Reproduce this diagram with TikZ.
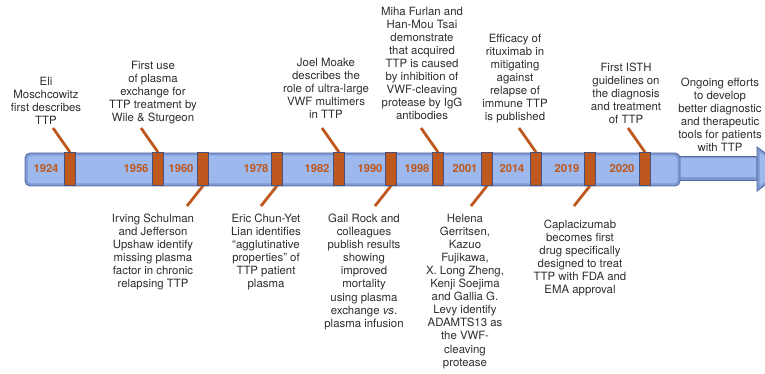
\documentclass[tikz,border=0pt]{standalone}
\usepackage{fontspec}
\setmainfont{TeX Gyre Heros}
\definecolor{orng}{RGB}{190,88,30}
\definecolor{mkedge}{RGB}{70,80,120}
\definecolor{barfill}{RGB}{156,184,236}
\definecolor{barshade}{RGB}{126,152,212}
\definecolor{baredge}{RGB}{88,108,160}
\definecolor{txtgray}{RGB}{45,45,45}
\begin{document}
\begin{tikzpicture}[x=1pt,y=-1pt,
  txt/.style={align=center, font=\fontsize{11.4}{13.05}\selectfont, text=txtgray, inner sep=0pt},
  yr/.style={font=\fontsize{11.2}{13}\selectfont\bfseries, text=orng, inner sep=0pt},
  mk/.style={draw=mkedge, line width=0.6pt, fill=orng, minimum width=11pt, minimum height=33pt, inner sep=0pt},
  conn/.style={draw=orng, line width=2.8pt},
  barpart/.style={fill=barshade, draw=baredge, line width=0.9pt}]
\useasboundingbox (0,0) rectangle (765,374);
\clip (0,0) rectangle (765,374);
% arrow
\draw[barpart] (670,156) rectangle (758,180);
\fill[barfill] (670,158.5) rectangle (756,177.5);
\draw[barpart] (757,147) -- (787,169) -- (757,191) -- cycle;
\fill[barfill] (759.5,152) -- (782,169) -- (759.5,186) -- cycle;
% bar
\draw[barpart, rounded corners=5pt] (25,153) rectangle (680,186);
\fill[barfill, rounded corners=4pt] (27.5,155.5) rectangle (677.5,183.5);
% connector free ends
\foreach \n/\x in {1/70, 2/158, 5/339, 7/438, 9/536, 11/645} {
  \coordinate (c\n) at (\x-17,128);
}
\foreach \n/\x in {3/203, 4/277, 6/391, 8/487, 10/590} {
  \coordinate (c\n) at (\x-16,206);
}
% markers
\foreach \n/\x in {1/70, 2/158, 3/203, 4/277, 5/339, 6/391, 7/438, 8/487, 9/536, 10/590, 11/645} {
  \node[mk] (m\n) at (\x,169) {};
}
\foreach \n in {1,2,5,7,9,11} { \draw[conn] (m\n.north) -- (c\n); }
\foreach \n in {3,4,6,8,10} { \draw[conn] (m\n.south) -- (c\n); }
\foreach \n in {1,...,11} { \node[mk] at (m\n) {}; }
% years
\node[yr] (y1924) at (46,168) {1924};
\node[yr] (y1956) at (136,168) {1956};
\node[yr] (y1960) at (181,168) {1960};
\node[yr] (y1978) at (256,168) {1978};
\node[yr] (y1982) at (317,168) {1982};
\node[yr] (y1990) at (370,168) {1990};
\node[yr] (y1998) at (417,168) {1998};
\node[yr] (y2001) at (465,168) {2001};
\node[yr] (y2014) at (512,168) {2014};
\node[yr] (y2019) at (567,168) {2019};
\node[yr] (y2020) at (622,168) {2020};
% upper texts
\node[txt, anchor=south] (t1) at (46,125) {Eli\\Moschcowitz\\first describes\\TTP};
\node[txt, anchor=south] (t2) at (153,124) {First use\\of plasma\\exchange for\\TTP treatment by\\Wile \& Sturgeon};
\node[txt, anchor=south] (t5) at (326,119) {Joel Moake\\describes the\\role of ultra-large\\VWF multimers\\in TTP};
\node[txt, anchor=south] (t7) at (422,120) {Miha Furlan and\\Han-Mou Tsai\\demonstrate\\that acquired\\TTP is caused\\by inhibition of\\VWF-cleaving\\protease by IgG\\antibodies};
\node[txt, anchor=south] (t9) at (515,123) {Efficacy of\\rituximab in\\mitigating\\against\\relapse of\\immune TTP\\is published};
\node[txt, anchor=south] (t11) at (626,124) {First ISTH\\guidelines on\\the diagnosis\\and treatment\\of TTP};
\node[txt, anchor=south] (t12) at (720,152) {Ongoing efforts\\to develop\\better diagnostic\\and therapeutic\\tools for patients\\with TTP};
% lower texts
\node[txt, anchor=north] (t3) at (153,214) {Irving Schulman\\and Jefferson\\Upshaw identify\\missing plasma\\factor in chronic\\relapsing TTP};
\node[txt, anchor=north] (t4) at (266,214) {Eric Chun-Yet\\Lian identifies\\“agglutinative\\properties” of\\TTP patient\\plasma};
\node[txt, anchor=north] (t6) at (364,214) {Gail Rock and\\colleagues\\publish results\\showing\\improved\\mortality\\using plasma\\exchange \textit{vs}.\\plasma infusion};
\node[txt, anchor=north] (t8) at (465,214) {Helena\\Gerritsen,\\Kazuo\\Fujikawa,\\X. Long Zheng,\\Kenji Soejima\\and Gallia G.\\Levy identify\\ADAMTS13 as\\the VWF-\\cleaving\\protease};
\node[txt, anchor=north] (t10) at (580,220) {Caplacizumab\\becomes first\\drug specifically\\designed to treat\\TTP with FDA and\\EMA approval};
\end{tikzpicture}
\end{document}
